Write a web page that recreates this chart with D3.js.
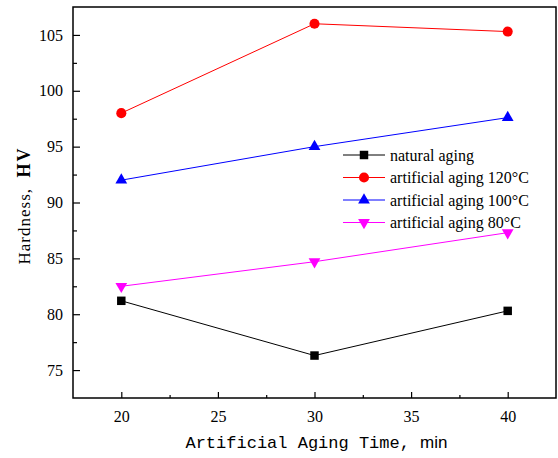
<!DOCTYPE html>
<html>
<head>
<meta charset="utf-8">
<script src="https://cdn.jsdelivr.net/npm/d3@7"></script>
<style>
body{margin:0;background:#fff;}
svg{display:block;}
.serif{font-family:"Liberation Serif","Times New Roman",serif;}
</style>
</head>
<body>
<svg id="chart" width="558" height="458"></svg>
<script>
const times = [20, 30, 40];
const naturalAging = [81.2, 76.3, 80.3];
const aging120 = [98.0, 106.0, 105.3];
const aging100 = [92.0, 95.0, 97.6];
const aging80 = [82.5, 84.7, 87.3];
const seriesNames = ["natural aging", "artificial aging 120°C", "artificial aging 100°C", "artificial aging 80°C"];
const xTicks = [20, 25, 30, 35, 40];
const yTicks = [75, 80, 85, 90, 95, 100, 105];

const series = [
  {name: seriesNames[0], values: naturalAging, color: "#000000", symbol: d3.symbolSquare, size: 72, rot: 0},
  {name: seriesNames[1], values: aging120, color: "#ff0000", symbol: d3.symbolCircle, size: 80, rot: 0},
  {name: seriesNames[2], values: aging100, color: "#0000ff", symbol: d3.symbolTriangle, size: 60, rot: 0},
  {name: seriesNames[3], values: aging80, color: "#ff00ff", symbol: d3.symbolTriangle, size: 60, rot: 180}
];

const svg = d3.select("#chart");
const L = 73, R = 556, T = 7, B = 398;
const x = d3.scaleLinear().domain([17.5, 42.5]).range([L, R]);
const y = d3.scaleLinear().domain([72.5, 107.5]).range([B, T]);

const serif = '"Liberation Serif","Times New Roman",serif';

// frame
svg.append("rect").attr("x", L).attr("y", T).attr("width", R - L).attr("height", B - T)
  .attr("fill", "none").attr("stroke", "#000").attr("stroke-width", 1.5);

// x axis (inward ticks)
const xAxis = d3.axisBottom(x).tickValues(xTicks).tickSize(-6).tickPadding(13).tickFormat(d3.format("d"));
const gx = svg.append("g").attr("transform", `translate(0,${B})`).call(xAxis)
  .attr("font-family", null).attr("font-size", null);
gx.select(".domain").remove();
gx.selectAll("text").style("font-family", serif).style("font-size", "16px").attr("fill", "#000");
gx.selectAll("line").attr("stroke", "#000").attr("stroke-width", 1.2);
const xMinor = d3.axisBottom(x).tickValues([22.5, 27.5, 32.5, 37.5]).tickSize(-3).tickFormat("");
const gxm = svg.append("g").attr("transform", `translate(0,${B})`).call(xMinor);
gxm.select(".domain").remove();
gxm.selectAll("line").attr("stroke", "#000").attr("stroke-width", 1.2);

// y axis (inward ticks)
const yAxis = d3.axisLeft(y).tickValues(yTicks).tickSize(-7).tickPadding(10).tickFormat(d3.format("d"));
const gy = svg.append("g").attr("transform", `translate(${L},0)`).call(yAxis)
  .attr("font-family", null).attr("font-size", null);
gy.select(".domain").remove();
gy.selectAll("text").style("font-family", serif).style("font-size", "16px").attr("fill", "#000");
gy.selectAll("line").attr("stroke", "#000").attr("stroke-width", 1.2);
const yMinor = d3.axisLeft(y).tickValues([77.5, 82.5, 87.5, 92.5, 97.5, 102.5]).tickSize(-4).tickFormat("");
const gym = svg.append("g").attr("transform", `translate(${L},0)`).call(yMinor);
gym.select(".domain").remove();
gym.selectAll("line").attr("stroke", "#000").attr("stroke-width", 1.2);

// lines and markers
const line = d3.line().x((d, i) => x(times[i])).y(d => y(d));
series.forEach(s => {
  svg.append("path").datum(s.values).attr("d", line)
    .attr("fill", "none").attr("stroke", s.color).attr("stroke-width", 1);
  svg.selectAll(null).data(s.values).enter().append("path")
    .attr("d", d3.symbol().type(s.symbol).size(s.size))
    .attr("transform", (d, i) => `translate(${x(times[i])},${y(d)}) rotate(${s.rot})`)
    .attr("fill", s.color);
});

// legend
const lg = svg.append("g");
const legendY = [155, 177.5, 200, 222.5];
series.forEach((s, i) => {
  const yy = legendY[i];
  lg.append("line").attr("x1", 343).attr("x2", 385).attr("y1", yy).attr("y2", yy)
    .attr("stroke", s.color).attr("stroke-width", 1);
  lg.append("path").attr("d", d3.symbol().type(s.symbol).size(s.size))
    .attr("transform", `translate(364,${yy}) rotate(${s.rot})`).attr("fill", s.color);
  lg.append("text").attr("x", 390).attr("y", yy + 5.5).text(s.name)
    .style("font-family", serif).style("font-size", "16px").attr("fill", "#000");
});

// x label
const xl = svg.append("text").attr("x", (L + R) / 2 + 2).attr("y", 448).attr("text-anchor", "middle").attr("fill", "#000");
xl.append("tspan").style("font-family", '"Liberation Mono","DejaVu Sans Mono",monospace').style("font-size", "17px").attr("xml:space", "preserve").text("Artificial Aging Time, ");
xl.append("tspan").style("font-family", '"Liberation Sans",Arial,sans-serif').style("font-size", "17px").text("min");

// y label
const yl = svg.append("text").attr("transform", `translate(30,${(T + B) / 2 + 3}) rotate(-90)`)
  .attr("text-anchor", "middle").attr("fill", "#000").style("white-space", "pre");
yl.append("tspan").style("font-family", serif).style("font-size", "17px").attr("letter-spacing", 1).text("Hardness,  ");
yl.append("tspan").style("font-family", serif).style("font-size", "18px").style("font-weight", "bold").attr("letter-spacing", 2).text("HV");
</script>
</body>
</html>
